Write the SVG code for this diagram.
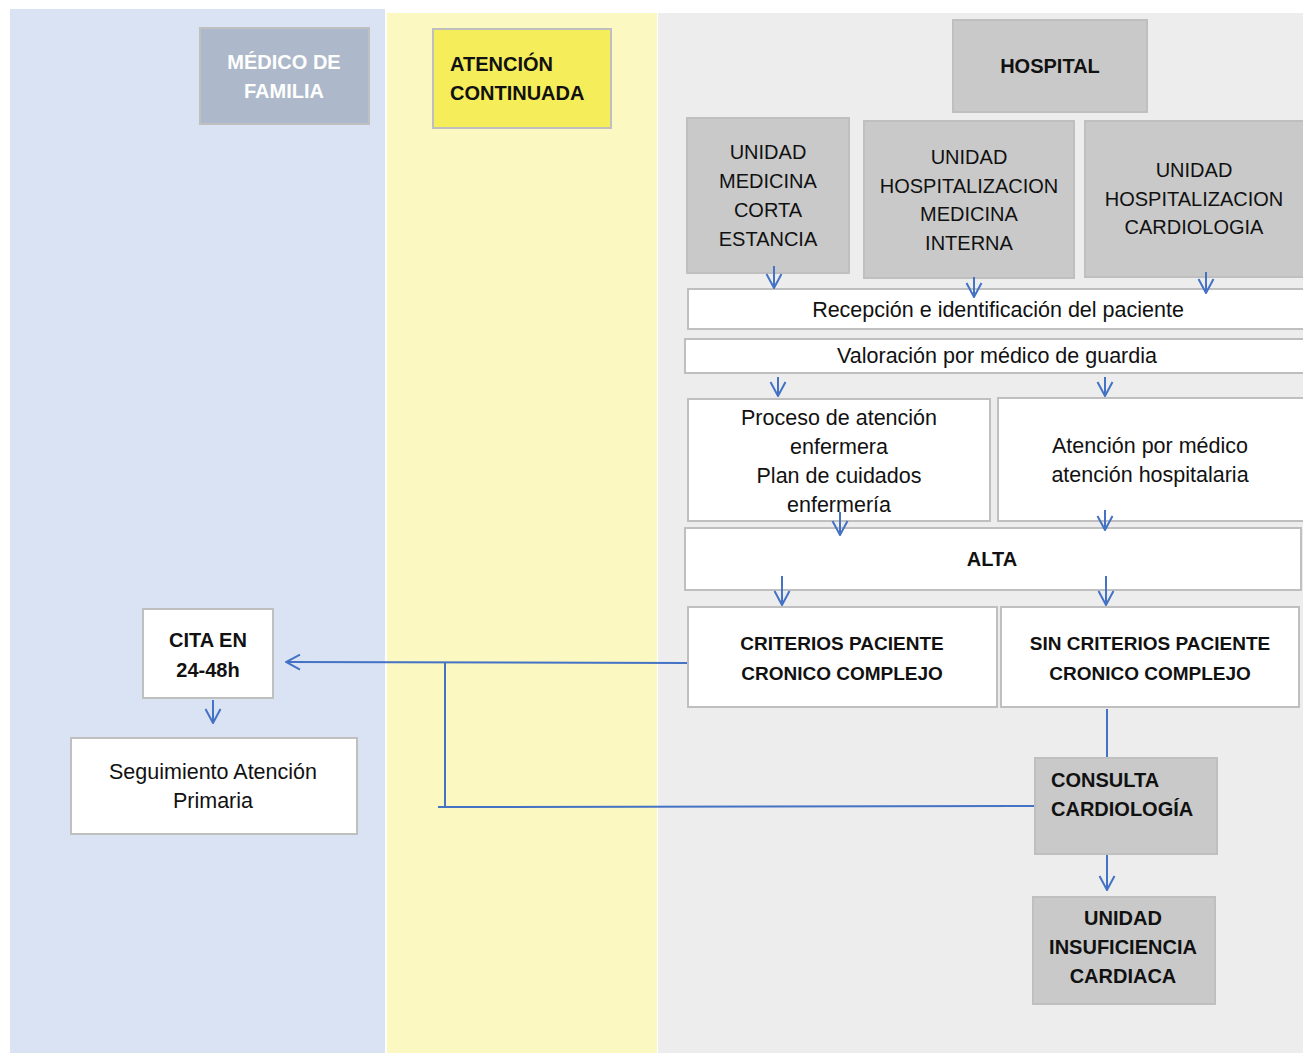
<svg xmlns="http://www.w3.org/2000/svg" width="1303" height="1053" viewBox="0 0 1303 1053">
<style>
.box{stroke:#bfbfbf;stroke-width:2}
.w{fill:#ffffff}
.g{fill:#c9c9c9}
.t{font-family:"Liberation Sans",Arial,sans-serif;font-size:20px;fill:#111}
.l{font-size:21.5px}
.b{font-weight:bold;font-size:20px}
.c{text-anchor:middle}
.con{stroke:#4472c4;stroke-width:2;fill:none}
</style>
<defs>
<marker id="ah" viewBox="0 0 16 18" refX="15" refY="9" markerWidth="16" markerHeight="18" markerUnits="userSpaceOnUse" orient="auto">
<path d="M1,1.5 L15,9 L1,16.5" fill="none" stroke="#4472c4" stroke-width="2"/>
</marker>
</defs>
<rect x="0" y="0" width="1303" height="1053" fill="#ffffff"/>
<rect x="10" y="9" width="375" height="1044" fill="#dae3f3"/>
<rect x="387" y="13" width="270" height="1040" fill="#fbf8c2"/>
<rect x="658" y="13" width="645" height="1040" fill="#ededed"/>

<g id="medico-familia">
<rect class="box" x="200" y="28" width="169" height="96" fill="#adb9ca"/>
<text class="t b c" x="284" y="69" style="fill:#ffffff">MÉDICO DE</text>
<text class="t b c" x="284" y="98" style="fill:#ffffff">FAMILIA</text>
</g>
<g id="atencion-continuada">
<rect class="box" x="433" y="29" width="178" height="99" fill="#f5ed5a"/>
<text class="t b" x="450" y="71">ATENCIÓN</text>
<text class="t b" x="450" y="100">CONTINUADA</text>
</g>
<g id="hospital">
<rect class="box g" x="953" y="20" width="194" height="92"/>
<text class="t b c" x="1050" y="73">HOSPITAL</text>
</g>
<g id="unidad-corta-estancia">
<rect class="box g" x="687" y="118" width="162" height="155"/>
<text class="t c" x="768" y="159">UNIDAD</text>
<text class="t c" x="768" y="188">MEDICINA</text>
<text class="t c" x="768" y="217">CORTA</text>
<text class="t c" x="768" y="246">ESTANCIA</text>
</g>
<g id="unidad-medicina-interna">
<rect class="box g" x="864" y="121" width="210" height="157"/>
<text class="t c" x="969" y="164">UNIDAD</text>
<text class="t c" x="969" y="193">HOSPITALIZACION</text>
<text class="t c" x="969" y="221">MEDICINA</text>
<text class="t c" x="969" y="250">INTERNA</text>
</g>
<g id="unidad-cardiologia">
<rect class="box g" x="1085" y="121" width="230" height="156"/>
<text class="t c" x="1194" y="177">UNIDAD</text>
<text class="t c" x="1194" y="206">HOSPITALIZACION</text>
<text class="t c" x="1194" y="234">CARDIOLOGIA</text>
</g>
<g id="recepcion">
<rect class="box w" x="688" y="289" width="625" height="40"/>
<text class="t l c" x="998" y="317">Recepción e identificación del paciente</text>
</g>
<g id="valoracion">
<rect class="box w" x="685" y="339" width="628" height="34"/>
<text class="t l c" x="997" y="363">Valoración por médico de guardia</text>
</g>
<g id="proceso-enfermera">
<rect class="box w" x="688" y="399" width="302" height="122"/>
<text class="t l c" x="839" y="425">Proceso de atención</text>
<text class="t l c" x="839" y="454">enfermera</text>
<text class="t l c" x="839" y="483">Plan de cuidados</text>
<text class="t l c" x="839" y="512">enfermería</text>
</g>
<g id="atencion-medico">
<rect class="box w" x="998" y="398" width="315" height="123"/>
<text class="t l c" x="1150" y="453">Atención por médico</text>
<text class="t l c" x="1150" y="482">atención hospitalaria</text>
</g>
<g id="alta">
<rect class="box w" x="685" y="528" width="616" height="62"/>
<text class="t b c" x="992" y="566">ALTA</text>
</g>
<g id="criterios">
<rect class="box w" x="688" y="607" width="309" height="100"/>
<text class="t b c" x="842" y="650" style="font-size:19px">CRITERIOS PACIENTE</text>
<text class="t b c" x="842" y="680" style="font-size:19px">CRONICO COMPLEJO</text>
</g>
<g id="sin-criterios">
<rect class="box w" x="1001" y="607" width="298" height="100"/>
<text class="t b c" x="1150" y="650" style="font-size:19px">SIN CRITERIOS PACIENTE</text>
<text class="t b c" x="1150" y="680" style="font-size:19px">CRONICO COMPLEJO</text>
</g>
<g id="consulta-cardiologia">
<rect class="box g" x="1035" y="758" width="182" height="96"/>
<text class="t b" x="1051" y="787">CONSULTA</text>
<text class="t b" x="1051" y="816">CARDIOLOGÍA</text>
</g>
<g id="unidad-insuficiencia">
<rect class="box g" x="1033" y="897" width="182" height="107"/>
<text class="t b c" x="1123" y="925">UNIDAD</text>
<text class="t b c" x="1123" y="954">INSUFICIENCIA</text>
<text class="t b c" x="1123" y="983">CARDIACA</text>
</g>
<g id="cita">
<rect class="box w" x="143" y="609" width="130" height="89"/>
<text class="t b c" x="208" y="647">CITA EN</text>
<text class="t b c" x="208" y="677">24-48h</text>
</g>
<g id="seguimiento">
<rect class="box w" x="71" y="738" width="286" height="96"/>
<text class="t l c" x="213" y="779">Seguimiento Atención</text>
<text class="t l c" x="213" y="808">Primaria</text>
</g>

<g id="connectors">
<line class="con" x1="774" y1="266" x2="774" y2="288" marker-end="url(#ah)"/>
<line class="con" x1="974" y1="277" x2="974" y2="297" marker-end="url(#ah)"/>
<line class="con" x1="1206" y1="272" x2="1206" y2="293" marker-end="url(#ah)"/>
<line class="con" x1="778" y1="377" x2="778" y2="396" marker-end="url(#ah)"/>
<line class="con" x1="1105" y1="377" x2="1105" y2="396" marker-end="url(#ah)"/>
<line class="con" x1="840" y1="512" x2="840" y2="535" marker-end="url(#ah)"/>
<line class="con" x1="1105" y1="510" x2="1105" y2="530" marker-end="url(#ah)"/>
<line class="con" x1="782" y1="576" x2="782" y2="605" marker-end="url(#ah)"/>
<line class="con" x1="1106" y1="576" x2="1106" y2="605" marker-end="url(#ah)"/>
<line class="con" x1="1107" y1="709" x2="1107" y2="757"/>
<line class="con" x1="1107" y1="855" x2="1107" y2="890" marker-end="url(#ah)"/>
<line class="con" x1="687" y1="663" x2="286" y2="662" marker-end="url(#ah)"/>
<line class="con" x1="445" y1="663" x2="445" y2="807"/>
<line class="con" x1="438" y1="807" x2="1034" y2="806"/>
<line class="con" x1="213" y1="700" x2="213" y2="723" marker-end="url(#ah)"/>
</g>
</svg>
